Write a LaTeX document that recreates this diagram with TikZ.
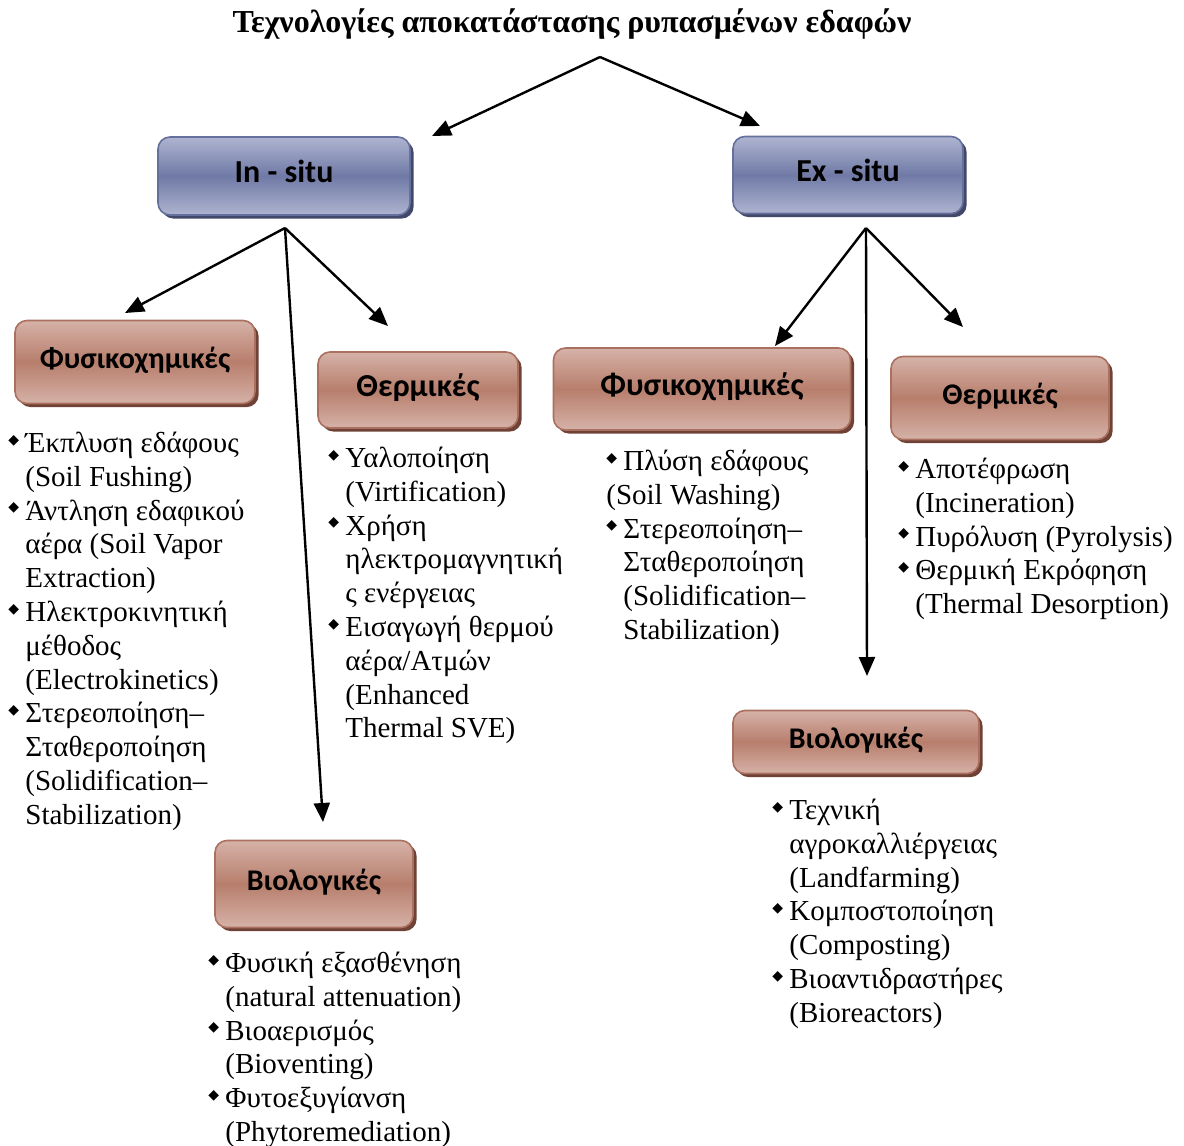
\documentclass[tikz,border=0pt]{standalone}
\usepackage{fontspec}
\setmainfont{Liberation Serif}
\newfontfamily\boxfont{Carlito}
\newfontfamily\dingfont{DejaVu Sans}
\usetikzlibrary{arrows.meta,shadows}
\definecolor{brlight}{RGB}{214,178,168}
\definecolor{brmid}{RGB}{183,126,108}
\definecolor{brline}{RGB}{170,112,96}
\definecolor{brshadow}{RGB}{112,66,54}
\definecolor{bllight}{RGB}{174,180,208}
\definecolor{blmid}{RGB}{112,122,166}
\definecolor{blline}{RGB}{102,112,156}
\definecolor{blshadow}{RGB}{66,72,106}
\newcommand{\bul}{\makebox[8.5pt][l]{\raisebox{4.2pt}{\dingfont\fontsize{7}{7}\selectfont ◆}}}
\newcommand{\ind}{\hspace*{8.5pt}}
\tikzset{
	arr/.style={-{Triangle[length=9.5pt,width=8pt]},line width=1.2pt},
	mainbox/.style={draw=blline,line width=0.8pt,rounded corners=6pt,
		top color=bllight,bottom color=bllight,middle color=blmid,
		drop shadow={shadow xshift=1.8pt,shadow yshift=-1.8pt,fill=blshadow,opacity=1},
		text height=11pt,text depth=5pt,
		font=\boxfont\bfseries\fontsize{16}{18}\selectfont},
	catbox/.style={draw=brline,line width=0.8pt,rounded corners=6pt,
		top color=brlight,bottom color=brlight,middle color=brmid,
		drop shadow={shadow xshift=1.8pt,shadow yshift=-1.8pt,fill=brshadow,opacity=1},
		text height=11pt,text depth=5pt,
		font=\boxfont\bfseries\fontsize{15}{17}\selectfont},
	lst/.style={anchor=north west,align=left,inner sep=0pt,font=\fontsize{14.5}{16.9}\selectfont}
}
\begin{document}
\begin{tikzpicture}[x=0.5pt,y=-0.5pt]
	\useasboundingbox (0,0) rectangle (1184,1146);
	\node[font=\bfseries\fontsize{16}{18}\selectfont] (ttl) at (572,24) {Τεχνολογίες αποκατάστασης ρυπασμένων εδαφών};
	\node[mainbox,minimum width=126pt,minimum height=39pt] (insitu) at (284,176) {In - situ};
	\node[mainbox,minimum width=115pt,minimum height=38.5pt] (exsitu) at (848,175) {Ex - situ};
	\node[catbox,minimum width=120pt,minimum height=41.5pt] (physin) at (135,362) {Φυσικοχημικές};
	\node[catbox,minimum width=100pt,minimum height=38pt,font=\boxfont\bfseries\fontsize{16}{18}\selectfont] (thermin) at (418,390) {Θερμικές};
	\node[catbox,minimum width=99pt,minimum height=43.5pt] (bioin) at (314,884) {Βιολογικές};
	\node[catbox,minimum width=148.5pt,minimum height=41pt,font=\boxfont\bfseries\fontsize{16}{18}\selectfont] (physex) at (702,389) {Φυσικοχημικές};
	\node[catbox,minimum width=109pt,minimum height=41.5pt] (thermex) at (1000,398) {Θερμικές};
	\node[catbox,minimum width=123pt,minimum height=31.5pt] (bioex) at (856,742) {Βιολογικές};

	\coordinate (split) at (600,57);
	\coordinate (inend) at (432,136);
	\coordinate (exend) at (760,126);
	\coordinate (infork) at (285,228);
	\coordinate (exfork) at (866,228);
	\coordinate (pin) at (125,313);
	\coordinate (tin) at (388,326);
	\coordinate (bin) at (323,822);
	\coordinate (pex) at (775,346);
	\coordinate (tex) at (963,327);
	\coordinate (bex) at (867,676);
	\foreach \e in {inend,exend}
	\draw[arr] (split) -- (\e);
	\foreach \e in {pin,tin,bin}
	\draw[arr] (infork) -- (\e);
	\foreach \e in {pex,tex,bex}
	\draw[arr] (exfork) -- (\e);

	\node[lst] (lphysin) at (8,428.5) {\strut\bul Έκπλυση εδάφους\\ \ind(Soil Fushing)\\ \bul Άντληση εδαφικού\\ \ind αέρα (Soil Vapor\\ \ind Extraction)\\ \bul Ηλεκτροκινητική\\ \ind μέθοδος\\ \ind(Electrokinetics)\\ \bul Στερεοποίηση–\\ \ind Σταθεροποίηση\\ \ind(Solidification–\\ \ind Stabilization)};
	\node[lst] (lthermin) at (328,443.5) {\strut\bul Υαλοποίηση\\ \ind(Virtification)\\ \bul Χρήση\\ \ind ηλεκτρομαγνητική\\ \ind ς ενέργειας\\ \bul Εισαγωγή θερμού\\ \ind αέρα/Ατμών\\ \ind(Enhanced\\ \ind Thermal SVE)};
	\node[lst] (lphysex) at (606,446.5) {\strut\bul Πλύση εδάφους\\ (Soil Washing)\\ \bul Στερεοποίηση–\\ \ind Σταθεροποίηση\\ \ind(Solidification–\\ \ind Stabilization)};
	\node[lst] (lthermex) at (898,454.5) {\strut\bul Αποτέφρωση\\ \ind(Incineration)\\ \bul Πυρόλυση (Pyrolysis)\\ \bul Θερμική Εκρόφηση\\ \ind(Thermal Desorption)};
	\node[lst] (lbioin) at (208,948.5) {\strut\bul Φυσική εξασθένηση\\ \ind(natural attenuation)\\ \bul Βιοαερισμός\\ \ind(Bioventing)\\ \bul Φυτοεξυγίανση\\ \ind(Phytoremediation)};
	\node[lst] (lbioex) at (772,795.5) {\strut\bul Τεχνική\\ \ind αγροκαλλιέργειας\\ \ind(Landfarming)\\ \bul Κομποστοποίηση\\ \ind(Composting)\\ \bul Βιοαντιδραστήρες\\ \ind(Bioreactors)};
\end{tikzpicture}
\end{document}
